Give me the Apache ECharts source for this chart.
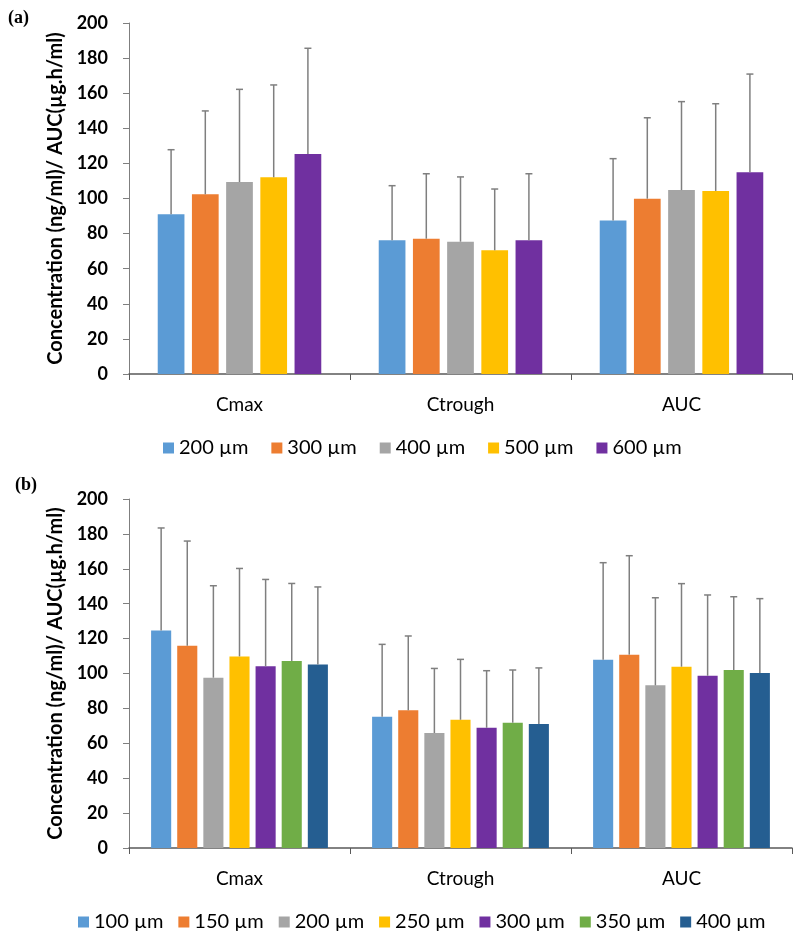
<!DOCTYPE html>
<html>
<head>
<meta charset="utf-8">
<script src="https://cdn.jsdelivr.net/npm/echarts@6/dist/echarts.min.js"></script>
<style>
html,body{margin:0;padding:0;background:#fff;}
#chart{width:800px;height:937px;}
</style>
</head>
<body>
<div id="chart"></div>
<script>
// ---------- data ----------
const categories = ['Cmax', 'Ctrough', 'AUC'];
const yTicks = [0, 20, 40, 60, 80, 100, 120, 140, 160, 180, 200];
const yAxisTitle = 'Concentration (ng/ml)/ AUC(µg.h/ml)';

// panel (a)
const sizesA = ['200 µm', '300 µm', '400 µm', '500 µm', '600 µm'];
const a200Mean = [91.0, 76.2, 87.4];
const a200SD   = [36.8, 31.1, 35.3];
const a300Mean = [102.4, 77.1, 99.9];
const a300SD   = [47.5, 37.0, 46.1];
const a400Mean = [109.4, 75.4, 104.8];
const a400SD   = [52.8, 36.9, 50.4];
const a500Mean = [112.1, 70.5, 104.3];
const a500SD   = [52.6, 34.9, 49.7];
const a600Mean = [125.4, 76.2, 114.9];
const a600SD   = [60.2, 37.9, 56.0];

// panel (b)
const sizesB = ['100 µm', '150 µm', '200 µm', '250 µm', '300 µm', '350 µm', '400 µm'];
const b100Mean = [124.7, 75.2, 107.9];
const b100SD   = [58.7, 41.5, 55.6];
const b150Mean = [115.9, 78.9, 110.8];
const b150SD   = [60.0, 42.6, 56.7];
const b200Mean = [97.6, 65.9, 93.2];
const b200SD   = [52.7, 37.0, 50.2];
const b250Mean = [109.8, 73.5, 103.9];
const b250SD   = [50.4, 34.6, 47.6];
const b300Mean = [104.1, 68.9, 98.7];
const b300SD   = [49.8, 32.7, 46.3];
const b350Mean = [107.2, 71.8, 102.0];
const b350SD   = [44.4, 30.2, 42.0];
const b400Mean = [105.2, 71.1, 100.3];
const b400SD   = [44.4, 32.1, 42.6];

// ---------- styling ----------
const colorsA = ['#5B9BD5', '#ED7D31', '#A5A5A5', '#FFC000', '#7030A0'];
const colorsB = ['#5B9BD5', '#ED7D31', '#A5A5A5', '#FFC000', '#7030A0', '#70AD47', '#255E91'];
const FONT = 'Lato';

const meansA = [a200Mean, a300Mean, a400Mean, a500Mean, a600Mean];
const sdsA = [a200SD, a300SD, a400SD, a500SD, a600SD];
const meansB = [b100Mean, b150Mean, b200Mean, b250Mean, b300Mean, b350Mean, b400Mean];
const sdsB = [b100SD, b150SD, b200SD, b250SD, b300SD, b350SD, b400SD];

const GAP_A = 0.28, CAT_A = 0.26;
const GAP_B = 0.30, CAT_B = 0.20;

function makeAxes(gi) {
  const x = {
    type: 'category', gridIndex: gi, data: categories,
    axisLine: {lineStyle: {color: '#595959', width: 1.5}},
    axisTick: {show: true, length: 6, lineStyle: {color: '#595959'}},
    axisLabel: {fontFamily: FONT, fontSize: 19, color: '#000', margin: 21}
  };
  const y = {
    type: 'value', gridIndex: gi, min: 0, max: 200, interval: 20,
    name: yAxisTitle, nameLocation: 'middle', nameGap: 61, nameRotate: 90,
    nameTextStyle: {fontFamily: FONT, fontSize: 20, fontWeight: 'bold', color: '#000'},
    axisLine: {show: true, lineStyle: {color: '#7f7f7f', width: 1}},
    axisTick: {show: true, length: 6, lineStyle: {color: '#7f7f7f'}},
    splitLine: {show: false},
    axisLabel: {fontFamily: FONT, fontSize: 18, fontWeight: 'bold', color: '#000', margin: 21,
      formatter: v => String(yTicks[yTicks.indexOf(v)])}
  };
  return [x, y];
}

function errSeries(gi, idx, n, gap, catGap, means, sds) {
  return {
    type: 'custom', name: 'err' + gi + '_' + idx,
    xAxisIndex: gi, yAxisIndex: gi, z: 5,
    data: categories.map((c, i) => [i, means[i], means[i] + sds[i]]),
    encode: {x: 0, y: [1, 2]},
    renderItem: function (params, api) {
      const ci = api.value(0);
      const lo = api.coord([ci, api.value(1)]);
      const hi = api.coord([ci, api.value(2)]);
      const band = api.size([1, 0])[0];
      const avail = band * (1 - catGap);
      const w = avail / (n + (n - 1) * gap);
      const x = lo[0] - avail / 2 + idx * w * (1 + gap) + w / 2;
      const st = {stroke: '#7f7f7f', lineWidth: 1.5};
      return {type: 'group', children: [
        {type: 'line', shape: {x1: x, y1: lo[1], x2: x, y2: hi[1]}, style: st},
        {type: 'line', shape: {x1: x - 3.5, y1: hi[1], x2: x + 3.5, y2: hi[1]}, style: st}
      ]};
    }
  };
}

const [xA, yA] = makeAxes(0);
const [xB, yB] = makeAxes(1);

const series = [];
sizesA.forEach((s, i) => {
  series.push({
    type: 'bar', name: s, xAxisIndex: 0, yAxisIndex: 0,
    data: meansA[i], itemStyle: {color: colorsA[i]},
    barGap: (GAP_A * 100) + '%', barCategoryGap: (CAT_A * 100) + '%'
  });
});
sizesA.forEach((s, i) => series.push(errSeries(0, i, sizesA.length, GAP_A, CAT_A, meansA[i], sdsA[i])));
sizesB.forEach((s, i) => {
  series.push({
    type: 'bar', name: 'b:' + s, xAxisIndex: 1, yAxisIndex: 1,
    data: meansB[i], itemStyle: {color: colorsB[i]},
    barGap: (GAP_B * 100) + '%', barCategoryGap: (CAT_B * 100) + '%'
  });
});
sizesB.forEach((s, i) => series.push(errSeries(1, i, sizesB.length, GAP_B, CAT_B, meansB[i], sdsB[i])));

const legendText = {fontFamily: FONT, fontSize: 20, color: '#000'};
const option = {
  animation: false,
  backgroundColor: '#fff',
  grid: [
    {left: 129, top: 23, width: 663, height: 351, outerBoundsMode: 'none'},
    {left: 129, top: 499, width: 663, height: 349, outerBoundsMode: 'none'}
  ],
  xAxis: [xA, xB],
  yAxis: [yA, yB],
  legend: [
    {data: sizesA, left: 158, top: 433, icon: 'rect', itemWidth: 11, itemHeight: 11,
     itemGap: 23, textStyle: legendText},
    {data: sizesB.map(s => 'b:' + s), left: 73, top: 907, icon: 'rect', itemWidth: 11, itemHeight: 11,
     itemGap: 15, textStyle: legendText, formatter: n => n.slice(2)}
  ],
  graphic: [
    {type: 'text', left: 8, top: 9, style: {text: '(a)', font: 'bold 18px "Liberation Serif"', fill: '#000'}},
    {type: 'text', left: 15, top: 476, style: {text: '(b)', font: 'bold 18px "Liberation Serif"', fill: '#000'}}
  ],
  series: series
};

const chart = echarts.init(document.getElementById('chart'), null, {renderer: 'canvas'});
chart.setOption(option);
</script>
</body>
</html>
